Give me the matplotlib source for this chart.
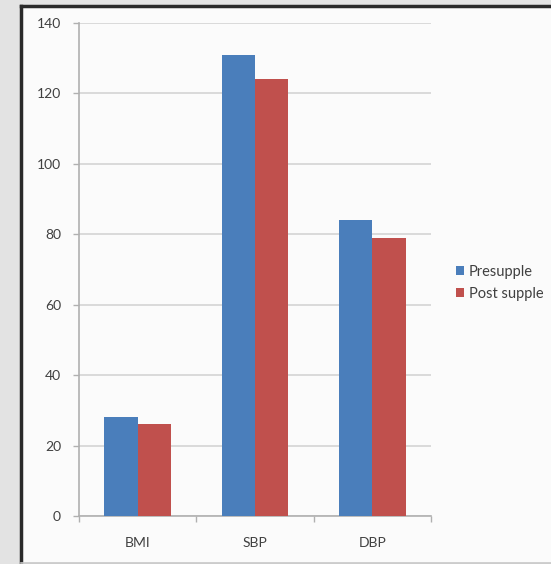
import matplotlib.pyplot as plt
import matplotlib.patches as mpatches
import matplotlib.lines as mlines
import numpy as np

plt.rcParams['font.family'] = ['Lato', 'DejaVu Sans']

# Datos
categorias = ["BMI", "SBP", "DBP"]
presupple = [28, 131, 84]
post_supple = [26, 124, 79]
series = ["Presupple", "Post supple"]
yticks = [0, 20, 40, 60, 80, 100, 120, 140]

fig = plt.figure(figsize=(5.51, 5.64), dpi=100)
fig.patch.set_facecolor("#e3e3e3")

# Panel blanco amb vores
x0, y0 = 20.5 / 551, 1 - 562.5 / 564
y1 = 1 - 5.5 / 564
panel = mpatches.Rectangle((x0, y0), 1.0, y1 - y0, transform=fig.transFigure,
                           facecolor="#fbfbfb", edgecolor="none", zorder=-10)
fig.patches.append(panel)
fig.lines.append(mlines.Line2D([x0, x0], [y0, y1], transform=fig.transFigure,
                               color="#2a2a2a", linewidth=2.5, zorder=-9))
fig.lines.append(mlines.Line2D([x0, 1], [y1, y1], transform=fig.transFigure,
                               color="#2a2a2a", linewidth=2.5, zorder=-9))
fig.lines.append(mlines.Line2D([x0, 1], [y0, y0], transform=fig.transFigure,
                               color="#c8c8c8", linewidth=1.2, zorder=-9))

ax = fig.add_axes([79 / 551, 1 - 516 / 564, 352 / 551, 493 / 564])
ax.set_facecolor("none")

x = np.arange(len(categorias))
w = 0.283
ax.bar(x - w / 2, presupple, w, color="#4a7ebb", label=series[0], zorder=3)
ax.bar(x + w / 2, post_supple, w, color="#c0504d", label=series[1], zorder=3)

ax.set_xlim(-0.5, 2.5)
ax.set_ylim(0, 140)
ax.set_yticks(yticks)
ax.yaxis.grid(True, color="#d4d4d4", linewidth=1.2, zorder=0)

ax.set_xticks([-0.5, 0.5, 1.5, 2.5])
ax.set_xticklabels([])
ax.set_xticks(x, minor=True)
ax.set_xticklabels(categorias, minor=True)
ax.tick_params(axis="x", which="minor", length=0, pad=15, labelsize=10, labelcolor="#404040")
ax.tick_params(axis="x", which="major", length=4, color="#b0b0b0", width=1)
ax.tick_params(axis="y", length=4, color="#b0b0b0", width=1, labelsize=10,
               labelcolor="#404040", pad=9)

for s in ["top", "right"]:
    ax.spines[s].set_visible(False)
for s in ["left", "bottom"]:
    ax.spines[s].set_color("#b0b0b0")
    ax.spines[s].set_linewidth(1.2)

leg = ax.legend(loc="center left", bbox_to_anchor=(456 / 551, 1 - 283 / 564),
                bbox_transform=fig.transFigure, frameon=False, fontsize=10.5,
                handlelength=0.55, handleheight=0.55, handletextpad=0.35,
                labelspacing=0.55, borderaxespad=0, borderpad=0)
for t in leg.get_texts():
    t.set_color("#404040")

plt.savefig("out.png", dpi=100, facecolor=fig.get_facecolor())
